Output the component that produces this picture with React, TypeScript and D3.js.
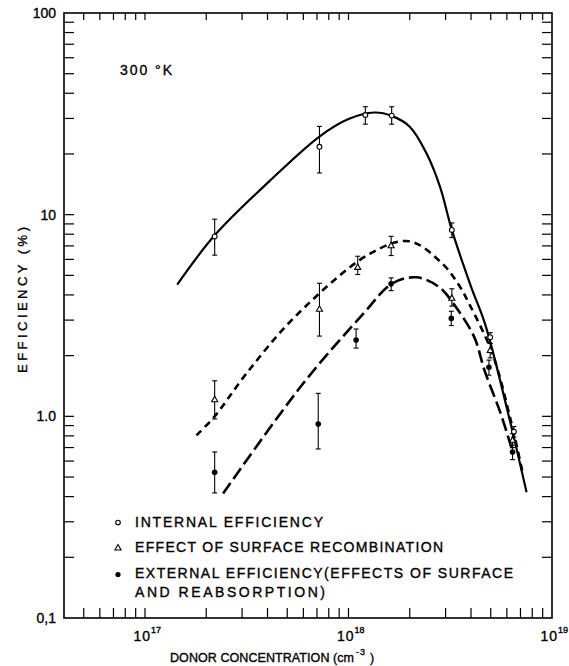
import React from 'react';
import * as d3 from 'd3';

// internal efficiency (open circles)
const internalX = [2.2e17, 7.2e17, 1.21e18, 1.63e18, 3.22e18, 4.97e18, 6.5e18];
const internalY = [7.8, 21.7, 31.2, 31.0, 8.4, 2.47, 0.84];
const internalLo = [6.3, 16.1, 28.1, 28.1, 7.7, 2.3, 0.79];
const internalHi = [9.5, 27.4, 34.3, 34.3, 9.1, 2.6, 0.89];

// effect of surface recombination (open triangles)
const surfaceX = [2.2e17, 7.2e17, 1.11e18, 1.62e18, 3.22e18, 4.97e18, 6.4e18];
const surfaceY = [1.21, 3.4, 5.48, 7.02, 3.85, 2.12, 0.76];
const surfaceLo = [0.97, 2.5, 5.05, 6.27, 3.52, 1.95, 0.7];
const surfaceHi = [1.5, 4.57, 6.22, 7.81, 4.29, 2.3, 0.82];

// external efficiency (filled dots)
const externalX = [2.2e17, 7.1e17, 1.09e18, 1.62e18, 3.2e18, 4.9e18, 6.4e18];
const externalY = [0.528, 0.916, 2.39, 4.54, 3.06, 1.75, 0.666];
const externalLo = [0.417, 0.689, 2.18, 4.2, 2.82, 1.6, 0.61];
const externalHi = [0.666, 1.3, 2.71, 4.86, 3.32, 1.9, 0.72];

// fitted curves
const solidX = [1.44e17, 2.2e17, 4.1e17, 7.2e17, 1.0e18, 1.34e18, 1.63e18, 2.0e18, 2.42e18, 2.82e18, 3.22e18, 4.0e18, 4.7e18, 6.04e18, 7.5e18];
const solidY = [4.5, 7.9, 14.7, 24.4, 29.8, 32.1, 30.9, 27.3, 20.1, 13.7, 8.4, 4.4, 2.85, 1.07, 0.42];

const shortX = [1.79e17, 2.2e17, 3.15e17, 5.43e17, 1.27e18, 1.99e18, 2.9e18, 3.5e18, 3.92e18, 5.1e18, 6.27e18, 7.16e18];
const shortY = [0.805, 1.0, 1.63, 3.1, 6.39, 7.38, 5.7, 4.45, 3.61, 2.04, 0.955, 0.53];

const longX = [2.42e17, 5.97e17, 1.18e18, 1.63e18, 2.15e18, 2.79e18, 3.37e18, 4.15e18, 4.66e18, 5.6e18, 6.37e18];
const longY = [0.414, 1.45, 3.22, 4.54, 4.89, 4.37, 3.48, 2.47, 1.69, 1.03, 0.68];

const yLabelValues = [100, 10, 1, 0.1];
const yLabelText = ['100', '10', '1.0', '0,1'];
const xLabelExp = [17, 18, 19];

const legendRows = [
  'INTERNAL EFFICIENCY',
  'EFFECT OF SURFACE RECOMBINATION',
  'EXTERNAL EFFICIENCY(EFFECTS OF SURFACE',
  'AND REABSORPTION)',
];

const FONT = 'Liberation Sans, Arial, sans-serif';

export default function App() {
  const x = d3.scaleLog().domain([4e16, 1e19]).range([64, 552]);
  const y = d3.scaleLog().domain([0.1, 100]).range([618, 13]);
  const [x0, x1] = x.range();
  const [y0, y1] = y.range();

  const xt = x.ticks().filter((t) => t > 4.01e16 && t < 0.99e19);
  const yt = y.ticks().filter((t) => t > 0.101 && t < 99);

  const line = d3
    .line<[number, number]>()
    .x((d) => x(d[0]))
    .y((d) => y(d[1]))
    .curve(d3.curveCatmullRom.alpha(0.5));

  const zip = (a: number[], b: number[]) => a.map((v, i) => [v, b[i]] as [number, number]);

  const errBars = (xs: number[], lo: number[], hi: number[], key: string) =>
    xs.map((v, i) => (
      <g key={key + i} stroke="#000" strokeWidth={1.1}>
        <line x1={x(v)} x2={x(v)} y1={y(lo[i])} y2={y(hi[i])} />
        <line x1={x(v) - 2.5} x2={x(v) + 2.5} y1={y(lo[i])} y2={y(lo[i])} />
        <line x1={x(v) - 2.5} x2={x(v) + 2.5} y1={y(hi[i])} y2={y(hi[i])} />
      </g>
    ));

  const tri = (cx: number, cy: number, s = 3.4) =>
    `M${cx},${cy - s} L${cx + s * 0.9},${cy + s * 0.6} L${cx - s * 0.9},${cy + s * 0.6} Z`;

  const legendY = [527, 552, 578, 597];
  const legendW = [188, 308, 378, 190];
  const ink = { stroke: '#000', strokeWidth: 0.35 };

  return (
    <svg width={569} height={666} style={{ position: 'absolute', left: 0, top: 0, background: '#fff' }}>
      {/* frame */}
      <rect x={x0} y={y1} width={x1 - x0} height={y0 - y1} fill="none" stroke="#000" strokeWidth={1.6} />

      {/* x ticks, bottom and top */}
      {xt.map((t) => (
        <g key={'xt' + t} stroke="#000" strokeWidth={1.2}>
          <line x1={x(t)} x2={x(t)} y1={y0} y2={y0 - 10} />
          <line x1={x(t)} x2={x(t)} y1={y1} y2={y1 + 7} />
        </g>
      ))}
      {/* y ticks, left and right */}
      {yt.map((t) => (
        <g key={'yt' + t} stroke="#000" strokeWidth={1.2}>
          <line x1={x0} x2={x0 + 10} y1={y(t)} y2={y(t)} />
          <line x1={x1} x2={x1 - 10} y1={y(t)} y2={y(t)} />
        </g>
      ))}

      <g fontFamily={FONT} {...ink}>
        {/* y tick labels */}
        {yLabelValues.map((v, i) => (
          <text key={'yl' + v} x={56} y={y(v)} dy="0.36em" textAnchor="end" fontSize={14}>
            {yLabelText[i]}
          </text>
        ))}

        {/* x tick labels */}
        {xLabelExp.map((e) => {
          const px = x(Math.pow(10, e));
          return (
            <g key={'xl' + e}>
              <text x={px + 6} y={641} textAnchor="end" fontSize={14} letterSpacing={1}>
                10
              </text>
              <text x={px + 6} y={633} fontSize={9}>
                {e}
              </text>
            </g>
          );
        })}

        {/* axis titles */}
        <text
          transform="translate(27,300) rotate(-90)"
          textAnchor="middle"
          fontSize={13}
          textLength={146}
          lengthAdjust="spacing"
        >
          EFFICIENCY (%)
        </text>
        <text x={170} y={662} fontSize={12.5} textLength={184} lengthAdjust="spacing">
          DONOR CONCENTRATION (cm
        </text>
        <text x={356} y={655} fontSize={9} letterSpacing={1}>
          -3
        </text>
        <text x={370} y={662} fontSize={12.5}>
          )
        </text>

        {/* temperature */}
        <text x={120} y={75} fontSize={14} textLength={52} lengthAdjust="spacing">
          300 °K
        </text>

        {/* legend text */}
        {legendRows.map((t, i) => (
          <text key={'lg' + i} x={135} y={legendY[i]} fontSize={14} textLength={legendW[i]} lengthAdjust="spacing">
            {t}
          </text>
        ))}
      </g>

      {/* curves */}
      <path d={line(zip(solidX, solidY)) || ''} fill="none" stroke="#000" strokeWidth={2.2} />
      <path d={line(zip(shortX, shortY)) || ''} fill="none" stroke="#000" strokeWidth={2.6} strokeDasharray="7 5" />
      <path d={line(zip(longX, longY)) || ''} fill="none" stroke="#000" strokeWidth={2.6} strokeDasharray="13 5" />

      {/* error bars */}
      {errBars(internalX, internalLo, internalHi, 'ei')}
      {errBars(surfaceX, surfaceLo, surfaceHi, 'es')}
      {errBars(externalX, externalLo, externalHi, 'ee')}

      {/* markers */}
      {internalX.map((v, i) => (
        <circle key={'ci' + i} cx={x(v)} cy={y(internalY[i])} r={2.4} fill="#fff" stroke="#000" strokeWidth={1.1} />
      ))}
      {surfaceX.map((v, i) => (
        <path key={'ts' + i} d={tri(x(v), y(surfaceY[i]))} fill="#fff" stroke="#000" strokeWidth={1.1} />
      ))}
      {externalX.map((v, i) => (
        <circle key={'de' + i} cx={x(v)} cy={y(externalY[i])} r={2.8} fill="#000" />
      ))}

      {/* legend markers */}
      <circle cx={118} cy={522.5} r={2.3} fill="#fff" stroke="#000" strokeWidth={1.1} />
      <path d={tri(118, 548)} fill="#fff" stroke="#000" strokeWidth={1.1} />
      <circle cx={118} cy={574.5} r={2.6} fill="#000" />
    </svg>
  );
}
